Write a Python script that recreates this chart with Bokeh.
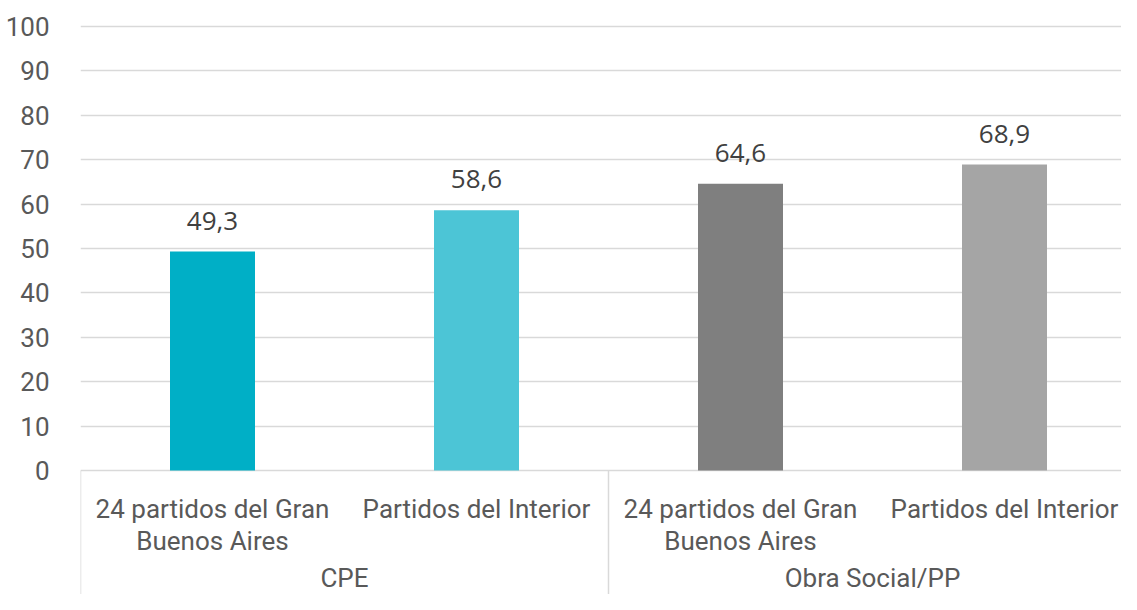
from bokeh.plotting import figure
from bokeh.models import Range1d, FixedTicker, ColumnDataSource
from bokeh.core.properties import value
from bokeh.embed import file_html
from bokeh.resources import INLINE

# ---- data ----
categories = ["24 partidos del Gran\nBuenos Aires", "Partidos del Interior",
              "24 partidos del Gran\nBuenos Aires", "Partidos del Interior"]
groups = ["CPE", "Obra Social/PP"]
values = [49.3, 58.6, 64.6, 68.9]
value_labels = ["49,3", "58,6", "64,6", "68,9"]
colors = ["#00AFC6", "#4CC5D6", "#7F7F7F", "#A5A5A5"]
y_ticks = [0, 10, 20, 30, 40, 50, 60, 70, 80, 90, 100]

# ---- layout constants (pixels) ----
W, H = 1121, 594
LEFT = 80            # frame left inside figure
TOP = 6              # frame top inside figure
PX_PER_CAT = 264.0
Y0_PX = 470          # pixel row (figure) of y = 0
PX_PER_UNIT = 4.44

frame_w = W - LEFT
x_end = frame_w / PX_PER_CAT
y_end = (Y0_PX - TOP) / PX_PER_UNIT
y_start = -(H - Y0_PX) / PX_PER_UNIT

def y_at(px):
    return (Y0_PX - px) / PX_PER_UNIT

FONT = "Roboto"
GRID = "#D9D9D9"
TXT = "#595959"

p = figure(width=W, height=H, output_backend="svg", toolbar_location=None,
           x_range=Range1d(0, x_end), y_range=Range1d(y_start, y_end),
           min_border_left=LEFT, min_border_right=0, min_border_top=TOP,
           min_border_bottom=0)
p.outline_line_color = None
p.xaxis.visible = False
p.xgrid.visible = False

p.yaxis.ticker = FixedTicker(ticks=y_ticks)
p.yaxis.axis_line_color = None
p.yaxis.major_tick_line_color = None
p.yaxis.minor_tick_line_color = None
p.yaxis.major_label_text_font = FONT
p.yaxis.major_label_text_font_size = "26px"
p.yaxis.major_label_text_color = TXT
p.yaxis.major_label_standoff = 25

p.ygrid.ticker = FixedTicker(ticks=y_ticks)
p.ygrid.grid_line_color = GRID
p.ygrid.grid_line_width = 1.5

xs = [i + 0.5 for i in range(len(values))]

src = ColumnDataSource(dict(x=xs, top=values, color=colors, lab=value_labels))
p.vbar(x="x", top="top", bottom=0, width=85 / PX_PER_CAT, fill_color="color",
       line_color=None, source=src)

# value labels
p.text(x="x", y="top", text="lab", source=src, text_align="center",
       text_baseline="middle", y_offset=-31, text_font=value("Open Sans"),
       text_font_size="26px", text_color="#404040")

# category labels (one or two lines)
l1x, l1t, l2x, l2t = [], [], [], []
for x, c in zip(xs, categories):
    parts = c.split("\n")
    l1x.append(x); l1t.append(parts[0])
    if len(parts) > 1:
        l2x.append(x); l2t.append(parts[1])
p.text(x=l1x, y=[y_at(508)] * len(l1x), text=l1t, text_align="center",
       text_baseline="middle", text_font=value(FONT),
       text_font_size="26px", text_color=TXT)
p.text(x=l2x, y=[y_at(540)] * len(l2x), text=l2t, text_align="center",
       text_baseline="middle", text_font=value(FONT),
       text_font_size="26px", text_color=TXT)

# group labels
gx = [1.0, 3.0]
p.text(x=gx, y=[y_at(577)] * 2, text=groups, text_align="center",
       text_baseline="middle", text_font=value(FONT),
       text_font_size="26px", text_color=TXT)

# category axis separators
sep_x = [0.0, 2.0, 4.0]
p.segment(x0=sep_x, y0=[0] * 3, x1=sep_x, y1=[y_start] * 3,
          line_color=GRID, line_width=1.5)

open("out.html", "w").write(file_html(p, INLINE))
